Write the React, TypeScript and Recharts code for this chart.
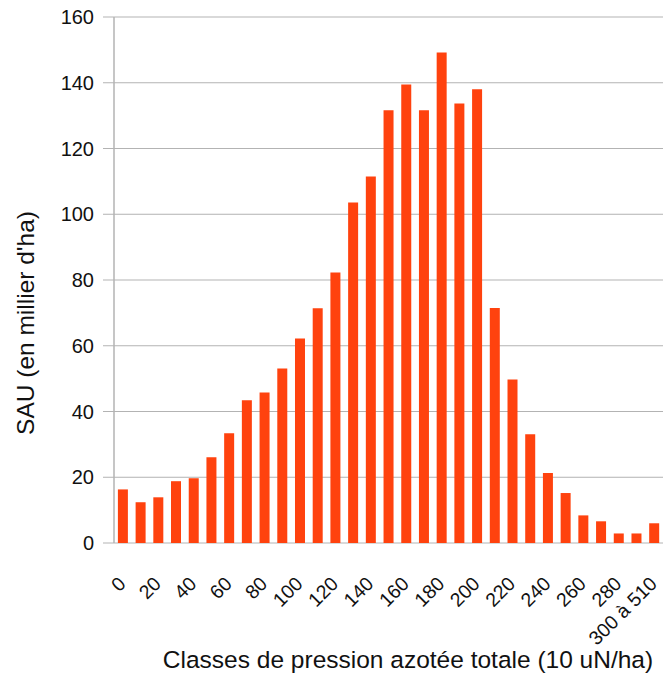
import React from 'react';
import { BarChart, Bar, XAxis, YAxis, CartesianGrid, ReferenceLine, Label } from 'recharts';

const categories = [
  '0', '10', '20', '30', '40', '50', '60', '70', '80', '90',
  '100', '110', '120', '130', '140', '150', '160', '170', '180', '190',
  '200', '210', '220', '230', '240', '250', '260', '270', '280', '290',
  '300 à 510',
];

const sauValues = [
  16.3, 12.4, 13.9, 18.8, 19.7, 26.1, 33.4, 43.4, 45.8, 53.1,
  62.2, 71.4, 82.3, 103.6, 111.5, 131.6, 139.5, 131.6, 149.2, 133.7,
  138.0, 71.5, 49.7, 33.1, 21.3, 15.2, 8.4, 6.6, 2.9, 2.9,
  6.0,
];

const yTicks = [0, 20, 40, 60, 80, 100, 120, 140, 160];
const boundaryTicks = categories.map((_, i) => i).concat([categories.length]);

const data = categories.map((c, i) => ({ label: c, value: sauValues[i] }));

const FONT = "'Liberation Sans', Arial, sans-serif";
const GRID = '#b3b3b3';
const BAR = '#ff420e';

const XTick = (props: any) => {
  const { x, y, payload } = props;
  const ax = x + 4;
  const ay = y + 34;
  return (
    <text
      x={ax}
      y={ay}
      transform={`rotate(-45, ${ax}, ${ay})`}
      textAnchor="end"
      fontSize={19.5}
      fontFamily={FONT}
      fill="#111"
    >
      {payload.value}
    </text>
  );
};

export default function App() {
  return (
    <div style={{ position: 'absolute', left: 0, top: 0, fontFamily: FONT }}>
      <BarChart
        width={664}
        height={673}
        data={data}
        margin={{ top: 17, right: 1, left: 0, bottom: 128 }}
        barCategoryGap="22%"
      >
        <CartesianGrid vertical={false} stroke={GRID} strokeWidth={1} />
        <XAxis
          xAxisId={0}
          dataKey="label"
          height={1}
          axisLine={false}
          tickLine={false}
          interval={1}
          tick={<XTick />}
        >
          <Label
            content={() => (
              <text x={408} y={668} textAnchor="middle" fontSize={24.5} fontFamily={FONT} fill="#111">
                Classes de pression azotée totale (10 uN/ha)
              </text>
            )}
          />
        </XAxis>
        <XAxis
          xAxisId="b"
          type="number"
          domain={[0, categories.length]}
          ticks={boundaryTicks}
          allowDataOverflow
          height={1}
          axisLine={false}
          tickLine={{ stroke: GRID, strokeWidth: 1.5 }}
          tickSize={11}
          tick={false}
        />
        <YAxis
          domain={[0, 160]}
          ticks={yTicks}
          width={114}
          axisLine={{ stroke: GRID, strokeWidth: 1.5 }}
          tickLine={{ stroke: GRID, strokeWidth: 1 }}
          tickSize={11}
          tickMargin={9}
          tick={{ fontSize: 20, fill: '#111', fontFamily: FONT }}
        >
          <Label
            content={() => (
              <text
                x={25}
                y={323}
                transform="rotate(-90, 25, 323)"
                textAnchor="middle"
                dominantBaseline="central"
                fontSize={24.5}
                fontFamily={FONT}
                fill="#111"
              >
                SAU (en millier d'ha)
              </text>
            )}
          />
        </YAxis>
        <ReferenceLine xAxisId="b" x={categories.length} stroke={GRID} strokeWidth={1.5} />
        <Bar dataKey="value" xAxisId={0} fill={BAR} isAnimationActive={false} />
      </BarChart>
    </div>
  );
}
